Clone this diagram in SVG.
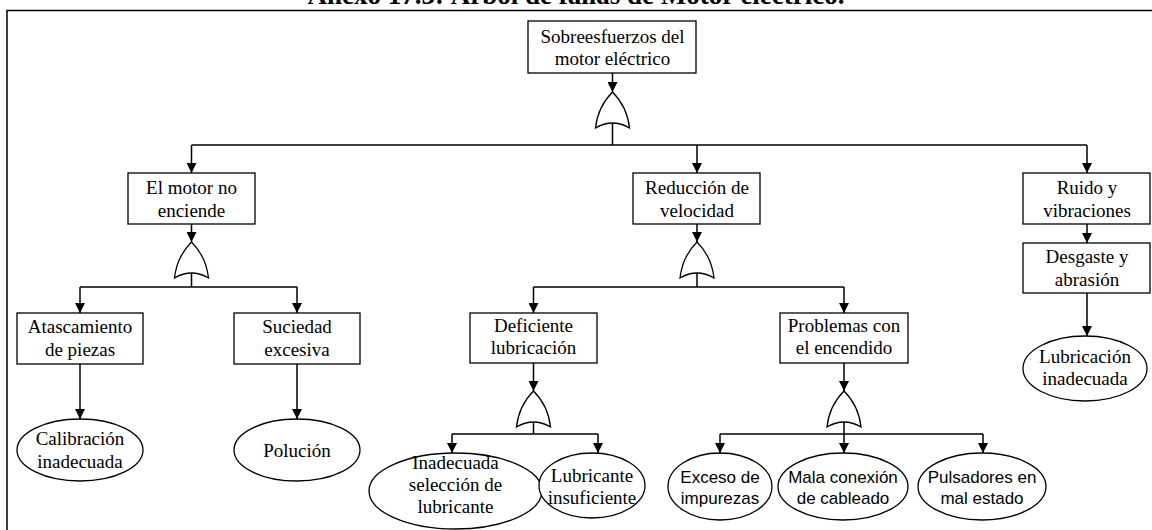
<svg xmlns="http://www.w3.org/2000/svg" width="1152" height="530" viewBox="0 0 1152 530">
  <style>
    .box { fill: #fff; stroke: #000; stroke-width: 1.3; }
    .ev { fill: #fff; stroke: #000; stroke-width: 1.3; }
    .gate { fill: #fff; stroke: #000; stroke-width: 1.3; }
    .ln { fill: none; stroke: #000; stroke-width: 1.5; }
    .t { font-family: "Liberation Serif", "Times New Roman", serif; font-size: 19px; fill: #000; text-anchor: middle; }
    .s { font-family: "Liberation Sans", Arial, sans-serif; font-size: 17px; fill: #000; text-anchor: middle; }
    .title { font-family: "Liberation Serif", "Times New Roman", serif; font-size: 27px; font-weight: bold; fill: #000; text-anchor: middle; }
  </style>
  <defs>
    <marker id="arr" markerWidth="10" markerHeight="10" refX="10" refY="5" orient="auto" markerUnits="userSpaceOnUse">
      <path d="M0,0 L10,5 L0,10 z" fill="#000"/>
    </marker>
    <!-- OR gate, tip at (0,0) -->
    <path id="orgate" d="M0,0 C6,6 15,18 17,36 Q0,26 -17,36 C-15,18 -6,6 0,0 Z"/>
  </defs>

  <rect width="1152" height="530" fill="#fff"/>

  <!-- caption, running off the top edge -->
  <text class="title" x="576" y="4">Anexo 17.3: Árbol de fallas de Motor eléctrico.</text>

  <!-- frame -->
  <path class="ln" d="M7,531 V10.5 H1153"/>

  <!-- connectors -->
  <g id="connectors">
    <!-- top event to gate -->
    <line class="ln" x1="612.5" y1="73" x2="612.5" y2="92" marker-end="url(#arr)"/>
    <line class="ln" x1="612.5" y1="122" x2="612.5" y2="145"/>
    <line class="ln" x1="191.5" y1="145" x2="1087" y2="145"/>
    <line class="ln" x1="191.5" y1="145" x2="191.5" y2="173" marker-end="url(#arr)"/>
    <line class="ln" x1="697" y1="145" x2="697" y2="173" marker-end="url(#arr)"/>
    <line class="ln" x1="1087" y1="145" x2="1087" y2="173" marker-end="url(#arr)"/>

    <!-- left branch -->
    <line class="ln" x1="191.5" y1="224" x2="191.5" y2="242" marker-end="url(#arr)"/>
    <line class="ln" x1="191.5" y1="272" x2="191.5" y2="287"/>
    <line class="ln" x1="80" y1="287" x2="297" y2="287"/>
    <line class="ln" x1="80" y1="287" x2="80" y2="313" marker-end="url(#arr)"/>
    <line class="ln" x1="297" y1="287" x2="297" y2="313" marker-end="url(#arr)"/>
    <line class="ln" x1="80" y1="364" x2="80" y2="419" marker-end="url(#arr)"/>
    <line class="ln" x1="297" y1="364" x2="297" y2="419" marker-end="url(#arr)"/>

    <!-- middle branch -->
    <line class="ln" x1="697" y1="224" x2="697" y2="242" marker-end="url(#arr)"/>
    <line class="ln" x1="697" y1="272" x2="697" y2="287"/>
    <line class="ln" x1="533.5" y1="287" x2="844" y2="287"/>
    <line class="ln" x1="533.5" y1="287" x2="533.5" y2="313" marker-end="url(#arr)"/>
    <line class="ln" x1="844" y1="287" x2="844" y2="313" marker-end="url(#arr)"/>

    <line class="ln" x1="533.5" y1="363" x2="533.5" y2="391" marker-end="url(#arr)"/>
    <line class="ln" x1="533.5" y1="421" x2="533.5" y2="434"/>
    <line class="ln" x1="452" y1="434" x2="598" y2="434"/>
    <line class="ln" x1="452" y1="434" x2="452" y2="453" marker-end="url(#arr)"/>
    <line class="ln" x1="598" y1="434" x2="598" y2="453" marker-end="url(#arr)"/>

    <line class="ln" x1="844" y1="363" x2="844" y2="391" marker-end="url(#arr)"/>
    <line class="ln" x1="844" y1="421" x2="844" y2="453" marker-end="url(#arr)"/>
    <line class="ln" x1="720" y1="434" x2="983" y2="434"/>
    <line class="ln" x1="720" y1="434" x2="720" y2="453" marker-end="url(#arr)"/>
    <line class="ln" x1="983" y1="434" x2="983" y2="453" marker-end="url(#arr)"/>

    <!-- right branch -->
    <line class="ln" x1="1087" y1="224" x2="1087" y2="243" marker-end="url(#arr)"/>
    <line class="ln" x1="1087" y1="293" x2="1087" y2="336" marker-end="url(#arr)"/>
  </g>

  <!-- gates -->
  <g id="gates">
    <use href="#orgate" class="gate" transform="translate(612.5,92)"/>
    <use href="#orgate" class="gate" transform="translate(191.5,242)"/>
    <use href="#orgate" class="gate" transform="translate(697,242)"/>
    <use href="#orgate" class="gate" transform="translate(533.5,391)"/>
    <use href="#orgate" class="gate" transform="translate(844,391)"/>
  </g>

  <g id="n-top">
    <rect class="box" x="528" y="21" width="168" height="52"/>
    <text class="t" x="612.5" y="43">Sobreesfuerzos del</text>
    <text class="t" x="612.5" y="65">motor eléctrico</text>
  </g>

  <g id="n-noenciende">
    <rect class="box" x="128" y="173" width="127" height="51"/>
    <text class="t" x="191.5" y="194">El motor no</text>
    <text class="t" x="191.5" y="217">enciende</text>
  </g>

  <g id="n-reduccion">
    <rect class="box" x="633" y="173" width="127" height="51"/>
    <text class="t" x="697" y="194">Reducción de</text>
    <text class="t" x="697" y="217">velocidad</text>
  </g>

  <g id="n-ruido">
    <rect class="box" x="1023" y="173" width="127" height="51"/>
    <text class="t" x="1087" y="194">Ruido y</text>
    <text class="t" x="1087" y="217">vibraciones</text>
  </g>

  <g id="n-desgaste">
    <rect class="box" x="1023" y="243" width="127" height="50"/>
    <text class="t" x="1087" y="263">Desgaste y</text>
    <text class="t" x="1087" y="286">abrasión</text>
  </g>

  <g id="n-lubinad">
    <ellipse class="ev" cx="1085" cy="368.5" rx="62" ry="32.5"/>
    <text class="t" x="1085" y="363">Lubricación</text>
    <text class="t" x="1085" y="385">inadecuada</text>
  </g>

  <g id="n-atascamiento">
    <rect class="box" x="17" y="313" width="126" height="51"/>
    <text class="t" x="80" y="333">Atascamiento</text>
    <text class="t" x="80" y="356">de piezas</text>
  </g>

  <g id="n-suciedad">
    <rect class="box" x="234" y="313" width="126" height="51"/>
    <text class="t" x="297" y="333">Suciedad</text>
    <text class="t" x="297" y="356">excesiva</text>
  </g>

  <g id="n-calibracion">
    <ellipse class="ev" cx="80" cy="450" rx="63" ry="31"/>
    <text class="t" x="80" y="445">Calibración</text>
    <text class="t" x="80" y="468">inadecuada</text>
  </g>

  <g id="n-polucion">
    <ellipse class="ev" cx="297" cy="450" rx="63" ry="31"/>
    <text class="t" x="297" y="457">Polución</text>
  </g>

  <g id="n-deficiente">
    <rect class="box" x="470" y="313" width="127" height="50"/>
    <text class="t" x="533.5" y="332">Deficiente</text>
    <text class="t" x="533.5" y="354">lubricación</text>
  </g>

  <g id="n-problemas">
    <rect class="box" x="780" y="313" width="128" height="50"/>
    <text class="t" x="844" y="332">Problemas con</text>
    <text class="t" x="844" y="354">el encendido</text>
  </g>

  <g id="n-inadecuada">
    <ellipse class="ev" cx="455.5" cy="491" rx="86.5" ry="38"/>
    <text class="t" x="455.5" y="469">Inadecuada</text>
    <text class="t" x="455.5" y="491">selección de</text>
    <text class="t" x="455.5" y="513">lubricante</text>
  </g>

  <g id="n-lubinsuf">
    <ellipse class="ev" cx="592" cy="485.5" rx="53" ry="32.5"/>
    <text class="t" x="592" y="482">Lubricante</text>
    <text class="t" x="592" y="504">insuficiente</text>
  </g>

  <g id="n-exceso">
    <ellipse class="ev" cx="720" cy="486.5" rx="52" ry="33.5"/>
    <text class="s" x="720" y="483">Exceso de</text>
    <text class="s" x="720" y="504">impurezas</text>
  </g>

  <g id="n-mala">
    <ellipse class="ev" cx="843" cy="486.5" rx="65" ry="33.5"/>
    <text class="s" x="843" y="483">Mala conexión</text>
    <text class="s" x="843" y="504">de cableado</text>
  </g>

  <g id="n-pulsadores">
    <ellipse class="ev" cx="982" cy="486.5" rx="64" ry="33.5"/>
    <text class="s" x="982" y="483">Pulsadores en</text>
    <text class="s" x="982" y="504">mal estado</text>
  </g>
</svg>
